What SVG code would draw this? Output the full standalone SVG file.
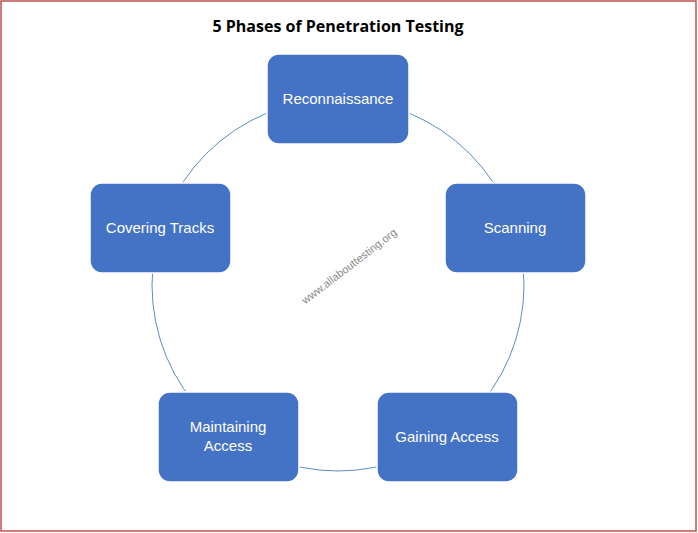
<svg xmlns="http://www.w3.org/2000/svg" width="698" height="533" viewBox="0 0 698 533">
<style>
.node rect{fill:#4472c4;stroke:#ffffff;stroke-width:1.5}
.node text{fill:#ffffff;font-family:"Liberation Sans",Arial,sans-serif;font-size:15px;text-anchor:middle}
.title{font-family:"Open Sans","Liberation Sans",sans-serif;font-weight:bold;font-size:16px;fill:#000;text-anchor:middle}
.wm{font-family:"Liberation Sans",Arial,sans-serif;font-size:11px;fill:#8a8a8a;text-anchor:middle}
</style>
<rect x="0" y="0" width="698" height="533" fill="#ffffff"/>
<rect x="1" y="1" width="695" height="530" fill="none" stroke="#c0504d" stroke-width="1.5"/>
<text class="title" x="338" y="32">5 Phases of Penetration Testing</text>
<g id="connectors">
<circle cx="338" cy="285" r="186" fill="none" stroke="#5b8cc4" stroke-width="1"/>
</g>
<text class="wm" transform="translate(349,266) rotate(-37.5)" y="4">www.allabouttesting.org</text>
<g id="recon" class="node"><rect x="267" y="54" width="142" height="90" rx="12"/><text x="338" y="104">Reconnaissance</text></g>
<g id="scanning" class="node"><rect x="445" y="183" width="141" height="90" rx="12"/><text x="515" y="233">Scanning</text></g>
<g id="gaining" class="node"><rect x="377" y="392" width="141" height="90" rx="12"/><text x="447" y="442">Gaining Access</text></g>
<g id="maintaining" class="node"><rect x="158" y="392" width="141" height="90" rx="12"/><text x="228" y="432">Maintaining</text><text x="228" y="451">Access</text></g>
<g id="covering" class="node"><rect x="90" y="183" width="141" height="90" rx="12"/><text x="160" y="233">Covering Tracks</text></g>
</svg>
